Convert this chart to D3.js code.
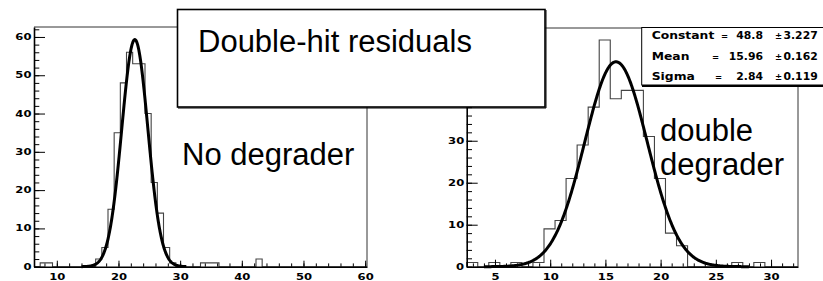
<!doctype html>
<html>
<head>
<meta charset="utf-8">
<title>Double-hit residuals</title>
<style>
  body { margin: 0; background: #fff; }
  svg { display: block; }
  .ax text { font-family: "DejaVu Sans", sans-serif; font-weight: bold; font-size: 8px; fill: #000; }
  .big { font-family: "Liberation Sans", Arial, sans-serif; font-size: 31px; fill: #000; }
  .stat { font-family: "DejaVu Sans", sans-serif; font-weight: bold; font-size: 10.3px; fill: #000; }
</style>
</head>
<body>
<div id="here"></div>
<script src="https://d3js.org/d3.v7.min.js"></script>
<script>
// left histogram: 54 bins of width 1 starting at 6.3
var leftLow = 6.3, leftWidth = 1;
var leftCounts = [0,1,1,0,0,0,0,0,0,0,2,5,15,35,48,56,53,53,40,22,14,5,1,0,0,0,0,1,1,1,0,0,0,0,0,0,2,
                  0,0,0,0,0,0,0,0,0,0,0,0,0,0,0,0,0];
var leftFit = { constant: 59.3, mean: 22.65, sigma: 2.12, from: 14, to: 31 };

// right histogram: 30 bins of width 1 starting at 2.44
var rightLow = 2.44, rightWidth = 1;
var rightCounts = [1,0,1,0,1,0,1,9,11,21,29,38,54,40,42,42,31,21,8,5,0,0,0,0,1,0,1,0,0,0];
var rightFit = { constant: 48.8, mean: 15.96, sigma: 2.84, from: 4, to: 28 };

var leftXTicks = [10, 20, 30, 40, 50, 60];
var leftYTicks = [0, 10, 20, 30, 40, 50, 60];
var rightXTicks = [5, 10, 15, 20, 25, 30];
var rightYTicks = [0, 10, 20, 30];   // 40 and 50 sit under the title box

var titleText = "Double-hit residuals";
var leftLabel = ["No degrader"];
var rightLabel = ["double", "degrader"];

var statNames = ["Constant", "Mean", "Sigma"];
var statValues = ["48.8", "15.96", "2.84"];
var statErrors = ["3.227", "0.162", "0.119"];

var W = 823, H = 281, sx = 1.45, ssx = 1.2;

var svg = d3.select("#here").append("svg")
  .attr("width", W).attr("height", H)
  .style("background", "#fff");

function bins(low, width, counts) {
  var pts = [[low, 0]];
  counts.forEach(function(c, i) { pts.push([low + i * width, c]); });
  var end = low + counts.length * width;
  pts.push([end, counts[counts.length - 1]]);
  pts.push([end, 0]);
  return pts;
}

function gauss(f) {
  var pts = [];
  for (var x = f.from; x <= f.to + 1e-9; x += 0.05) {
    pts.push([x, f.constant * Math.exp(-0.5 * Math.pow((x - f.mean) / f.sigma, 2))]);
  }
  return pts;
}

function minors(lo, hi, step) {
  var out = [];
  for (var v = lo; v <= hi + 1e-9; v += step) out.push(+v.toFixed(3));
  return out;
}

function panel(x, y, low, width, counts, fit, xt, yt, xMinor, yMinor, xMajLen, yMajLen) {
  var g = svg.append("g");

  // frame top and right
  g.append("path")
    .attr("d", "M" + x.range()[0] + "," + y.range()[1] + "H" + x.range()[1] + "V" + y.range()[0])
    .attr("fill", "none").attr("stroke", "#333").attr("stroke-width", 1);

  g.append("path")
    .attr("d", d3.line().x(function(d) { return x(d[0]); }).y(function(d) { return y(d[1]); })
      .curve(d3.curveStepAfter)(bins(low, width, counts)))
    .attr("fill", "none").attr("stroke", "#444").attr("stroke-width", 1.1);

  g.append("path")
    .attr("d", d3.line().x(function(d) { return x(d[0]); }).y(function(d) { return y(d[1]); })(gauss(fit)))
    .attr("fill", "none").attr("stroke", "#000").attr("stroke-width", 3);

  // minor ticks
  g.append("g").attr("class", "ax")
    .attr("transform", "translate(0," + y.range()[0] + ")")
    .call(d3.axisBottom(x).tickValues(xMinor).tickSizeInner(-3.3).tickSizeOuter(0).tickFormat(""))
    .call(function(s) { s.select(".domain").remove(); });
  g.append("g").attr("class", "ax")
    .attr("transform", "translate(" + x.range()[0] + ",0)")
    .call(d3.axisLeft(y).tickValues(yMinor).tickSizeInner(-5.3).tickSizeOuter(0).tickFormat(""))
    .call(function(s) { s.select(".domain").remove(); });

  // major ticks with labels
  var gx = g.append("g").attr("class", "ax")
    .attr("transform", "translate(0," + y.range()[0] + ")")
    .call(d3.axisBottom(x).tickValues(xt).tickSizeInner(-xMajLen).tickSizeOuter(0).tickPadding(8));
  gx.selectAll("text").each(function() {
    var t = d3.select(this);
    t.attr("transform", "translate(0," + t.attr("y") + ") scale(" + sx + ",1)").attr("y", 0);
  });
  var gy = g.append("g").attr("class", "ax")
    .attr("transform", "translate(" + x.range()[0] + ",0)")
    .call(d3.axisLeft(y).tickValues(yt).tickSizeInner(-yMajLen).tickSizeOuter(0).tickPadding(2.5));
  gy.selectAll("text").each(function() {
    var t = d3.select(this);
    t.attr("transform", "translate(" + t.attr("x") + ",0) scale(" + sx + ",1)").attr("x", 0);
  });
  svg.selectAll(".ax line").attr("stroke", "#000").attr("stroke-width", 1);
  svg.selectAll(".ax .domain").attr("stroke", "#000").attr("stroke-width", 1.6);
  return g;
}

var xL = d3.scaleLinear().domain([6.3, 60.3]).range([34, 367]);
var yL = d3.scaleLinear().domain([0, 62.6]).range([266.7, 27]);
var xR = d3.scaleLinear().domain([2.44, 32.44]).range([466.7, 798]);
var yR = d3.scaleLinear().domain([0, 56.85]).range([266.7, 28]);

panel(xL, yL, leftLow, leftWidth, leftCounts, leftFit, leftXTicks, leftYTicks,
      minors(8, 60, 2), minors(0, 62, 2), 6, 11);
panel(xR, yR, rightLow, rightWidth, rightCounts, rightFit, rightXTicks, [0, 10, 20, 30, 40, 50],
      minors(3, 32, 1), minors(0, 56, 2), 7, 11);
// right y labels: only the visible ones keep text
svg.selectAll("g.ax text").filter(function(d) {
  return this.parentNode.parentNode.getAttribute("transform") === "translate(466.7,0)" &&
         rightYTicks.indexOf(d) < 0;
}).remove();

// labels inside the pads
svg.append("text").attr("class", "big").attr("x", 182).attr("y", 165).text(leftLabel[0]);
svg.selectAll(".rl").data(rightLabel).enter().append("text")
  .attr("class", "big rl")
  .attr("x", 660).attr("y", function(d, i) { return 140.5 + i * 34.5; })
  .text(function(d) { return d; });

// title box
svg.append("rect").attr("x", 177.5).attr("y", 9.5).attr("width", 367.5).attr("height", 97.5)
  .attr("fill", "#fff").attr("stroke", "#000").attr("stroke-width", 1.6);
svg.append("path").attr("d", "M178,108H546V10")
  .attr("fill", "none").attr("stroke", "#000").attr("stroke-width", 1);
svg.append("text").attr("class", "big").attr("x", 198).attr("y", 51.7).text(titleText);

// stats box
svg.append("rect").attr("x", 641.7).attr("y", 27.5).attr("width", 200).attr("height", 57.5)
  .attr("fill", "#fff").attr("stroke", "#000").attr("stroke-width", 1);
svg.append("line").attr("x1", 642).attr("x2", 830).attr("y1", 86).attr("y2", 86)
  .attr("stroke", "#000").attr("stroke-width", 2);

var rowY = [39, 59.5, 79.5];
var eqX = [721, 712, 715];
function stext(x, y, s, anchor, k, size) {
  svg.append("text").attr("class", "stat")
    .attr("text-anchor", anchor || "start")
    .attr("transform", "translate(" + x + "," + y + ") scale(" + (k || ssx) + ",1)")
    .style("font-size", size || null)
    .text(s);
}
statNames.forEach(function(n, i) {
  stext(651.7, rowY[i], n);
  stext(eqX[i], rowY[i], "=", "start", 1, "8.5px");
  stext(763, rowY[i], statValues[i], "end", 1.05);
  stext(775, rowY[i], "\u00b1", "start", 1, "8.5px");
  stext(783.5, rowY[i], statErrors[i], "start", 1.05);
});
</script>
</body>
</html>
